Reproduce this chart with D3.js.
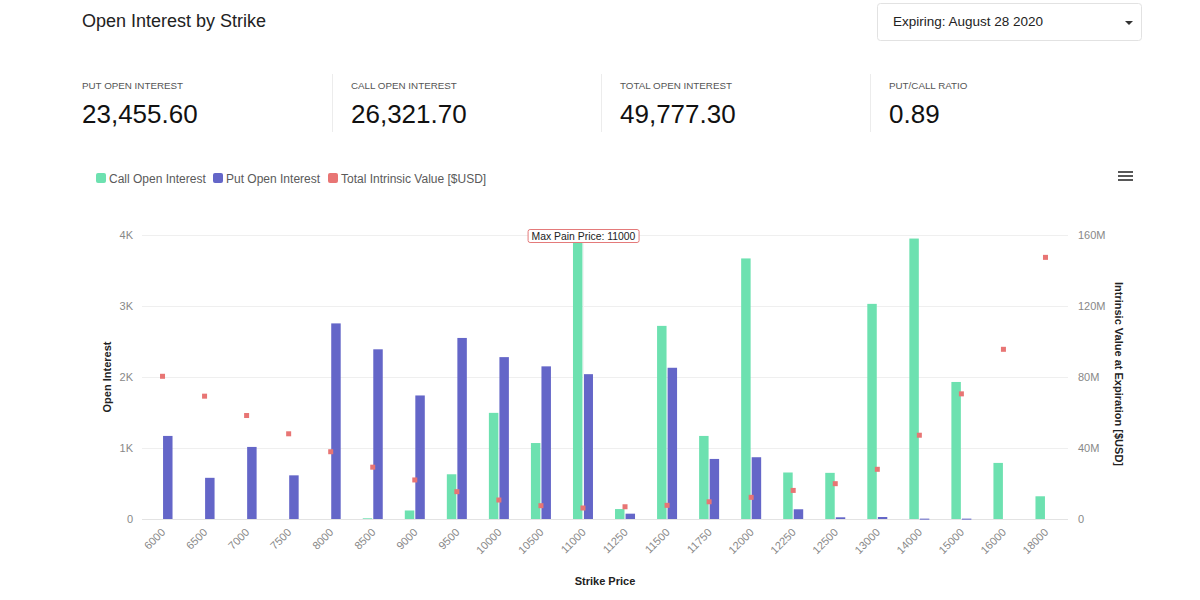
<!DOCTYPE html>
<html><head><meta charset="utf-8">
<script src="https://cdn.jsdelivr.net/npm/d3@7"></script>
<style>
html,body{margin:0;padding:0;background:#fff;}
svg{display:block;font-family:"Liberation Sans",Arial,Helvetica,sans-serif;}
</style></head>
<body><svg id="c" width="1200" height="600"></svg>
<script>
const strikes = ["6000","6500","7000","7500","8000","8500","9000","9500","10000","10500","11000","11250","11500","11750","12000","12250","12500","13000","14000","15000","16000","18000"];
const callOI = [0,0,0,0,0,10,120,630,1495,1070,3900,140,2720,1170,3670,655,650,3030,3950,1930,790,320];
const putOI = [1170,580,1015,615,2755,2390,1740,2550,2280,2150,2040,75,2130,846,870,137,24,28,5,5,0,0];
const intrinsic = [80.4,69.2,58.3,48.0,37.9,29.2,22.0,15.4,10.7,7.5,6.2,6.9,7.7,9.7,12.2,16.1,19.9,28.0,47.2,70.5,95.6,147.4]; // $M
const leftTicks = [0,1000,2000,3000,4000];
const leftTickLabels = ["0","1K","2K","3K","4K"];
const rightTicks = [0,40,80,120,160];
const rightTickLabels = ["0","40M","80M","120M","160M"];
const statLabels = ["PUT OPEN INTEREST","CALL OPEN INTEREST","TOTAL OPEN INTEREST","PUT/CALL RATIO"];
const statValues = ["23,455.60","26,321.70","49,777.30","0.89"];
const seriesNames = ["Call Open Interest","Put Open Interest","Total Intrinsic Value [$USD]"];
const maxPain = "11000";

const colors = {call:"#6de1b0", put:"#6466c8", iv:"#e87574"};
const svg = d3.select("#c");

// header
svg.append("text").attr("x",82).attr("y",27).attr("font-size",18).attr("fill","#222").text("Open Interest by Strike");
svg.append("rect").attr("x",877.5).attr("y",3.5).attr("width",264).attr("height",37).attr("rx",3)
  .attr("fill","#fff").attr("stroke","#e2e2e2");
svg.append("text").attr("x",893).attr("y",26).attr("font-size",13.5).attr("fill","#222").text("Expiring: August 28 2020");
svg.append("path").attr("d","M1125,21 L1133,21 L1129,25 Z").attr("fill","#333");

// stats
const statX = [82,351,620,889];
statX.forEach((x,i)=>{
  svg.append("text").attr("x",x).attr("y",89).attr("font-size",9.8).attr("fill","#555").text(statLabels[i]);
  svg.append("text").attr("x",x).attr("y",123).attr("font-size",26).attr("fill","#111").text(statValues[i]);
  if(i>0) svg.append("line").attr("x1",x-18.5).attr("x2",x-18.5).attr("y1",74).attr("y2",132).attr("stroke","#ececec");
});

// legend
const legX = [96,213,328];
const legC = [colors.call,colors.put,colors.iv];
legX.forEach((x,i)=>{
  svg.append("rect").attr("x",x).attr("y",173).attr("width",10).attr("height",10).attr("rx",2).attr("fill",legC[i]);
  svg.append("text").attr("x",x+13).attr("y",182.5).attr("font-size",12).attr("fill","#5a5a5a").text(seriesNames[i]);
});
// menu icon
[172,176,180].forEach(y=>svg.append("line").attr("x1",1118).attr("x2",1133).attr("y1",y).attr("y2",y).attr("stroke","#444").attr("stroke-width",1.8));

// chart area
const x0 = 142, x1 = 1067, yTop = 235, yBot = 519;
const x = d3.scaleBand().domain(strikes).range([x0,x1]).paddingInner(0).paddingOuter(0);
const sub = d3.scaleBand().domain(["call","put"]).range([x.bandwidth()/2-10.5, x.bandwidth()/2+9.5]).paddingInner(0.1);
const y = d3.scaleLinear().domain([0,4000]).range([yBot,yTop]);
const y2 = d3.scaleLinear().domain([0,160]).range([yBot,yTop]);

// grid
const g = svg.append("g");
g.selectAll("line.grid").data(leftTicks.slice(1)).join("line")
  .attr("x1",x0).attr("x2",x1+1).attr("y1",d=>y(d)+0.5).attr("y2",d=>y(d)+0.5).attr("stroke","#efefef");
g.append("line").attr("x1",x0).attr("x2",x1+1).attr("y1",yBot+0.5).attr("y2",yBot+0.5).attr("stroke","#e3e3e3");

// left axis
const la = svg.append("g").attr("transform",`translate(${x0-9},0)`)
  .call(d3.axisLeft(y).tickValues(leftTicks).tickFormat((d,i)=>leftTickLabels[i]).tickSize(0).tickPadding(0));
la.select(".domain").remove();
la.selectAll("text").attr("font-size",11).attr("fill","#888").attr("font-family","Liberation Sans, Arial, sans-serif");
// right axis
const ra = svg.append("g").attr("transform",`translate(${x1+11},0)`)
  .call(d3.axisRight(y2).tickValues(rightTicks).tickFormat((d,i)=>rightTickLabels[i]).tickSize(0).tickPadding(0));
ra.select(".domain").remove();
ra.selectAll("text").attr("font-size",11).attr("fill","#888").attr("font-family","Liberation Sans, Arial, sans-serif");

// axis titles
svg.append("text").attr("transform","translate(111,377) rotate(-90)").attr("text-anchor","middle")
  .attr("font-size",11).attr("font-weight","bold").attr("fill","#222").text("Open Interest");
svg.append("text").attr("transform","translate(1115,374) rotate(90)").attr("text-anchor","middle")
  .attr("font-size",11).attr("font-weight","bold").attr("fill","#222").text("Intrinsic Value at Expiration [$USD]");
svg.append("text").attr("x",605).attr("y",585).attr("text-anchor","middle")
  .attr("font-size",11).attr("font-weight","bold").attr("fill","#222").text("Strike Price");

// bars
const bars = svg.append("g");
strikes.forEach((s,i)=>{
  if(callOI[i]>0) bars.append("rect").attr("x",x(s)+sub("call")).attr("width",sub.bandwidth())
    .attr("y",y(callOI[i])).attr("height",yBot-y(callOI[i])).attr("fill",colors.call);
  if(putOI[i]>0) bars.append("rect").attr("x",x(s)+sub("put")).attr("width",sub.bandwidth())
    .attr("y",y(putOI[i])).attr("height",Math.max(1,yBot-y(putOI[i]))).attr("fill",colors.put);
});

// max pain annotation
const mpX = x(maxPain)+x.bandwidth()/2;
svg.append("line").attr("x1",mpX).attr("x2",mpX).attr("y1",243).attr("y2",yBot).attr("stroke","#f3f3f3").attr("stroke-width",1);

// intrinsic value points
svg.append("g").selectAll("rect").data(strikes).join("rect")
  .attr("x",(d)=>x(d)+x.bandwidth()/2-3).attr("y",(d,i)=>y2(intrinsic[i])-2.5)
  .attr("width",5).attr("height",5).attr("fill",colors.iv);

const mp = svg.append("g");
const mpText = mp.append("text").attr("x",mpX).attr("y",240).attr("text-anchor","middle")
  .attr("font-size",10.4).attr("fill","#222").text("Max Pain Price: "+maxPain);
const bb = mpText.node().getBBox();
mp.insert("rect","text").attr("x",bb.x-3.5).attr("y",229.5).attr("width",bb.width+7).attr("height",13)
  .attr("rx",2).attr("fill","#fff").attr("stroke","#e47a7a");

// x tick labels
const xa = svg.append("g").attr("transform",`translate(0,${yBot})`)
  .call(d3.axisBottom(x).tickSize(0).tickPadding(0));
xa.select(".domain").remove();
xa.selectAll("text").attr("font-size",11).attr("fill","#888").attr("font-family","Liberation Sans, Arial, sans-serif")
  .attr("text-anchor","end").attr("dy",0).attr("y",0)
  .attr("transform","translate(3,14) rotate(-45)");
</script></body></html>
